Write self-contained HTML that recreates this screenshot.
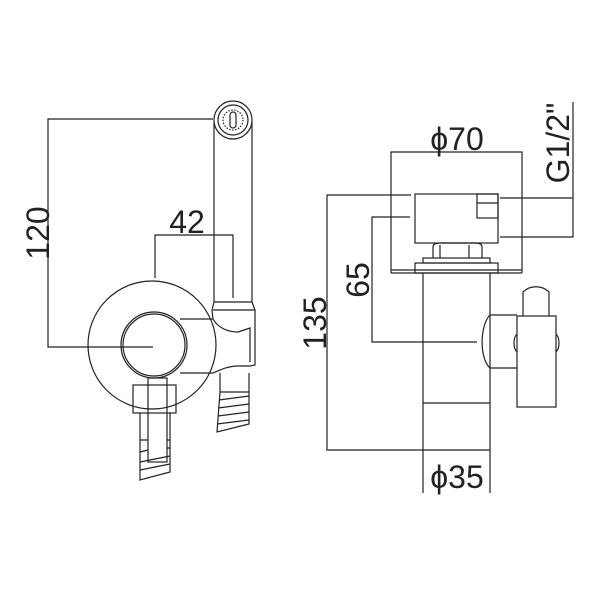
<!DOCTYPE html>
<html><head><meta charset="utf-8"><style>html,body{margin:0;padding:0;background:#fff}svg{display:block}</style></head>
<body>
<svg width="600" height="600" viewBox="0 0 600 600" xmlns="http://www.w3.org/2000/svg" font-family="Liberation Sans, sans-serif">
<g fill="none" stroke="#222" stroke-width="1.2">
<polyline points="213,119 48,119 48,347 153,347"/>
<polyline points="155,278 155,235 233,235 233,298"/>
<circle cx="233" cy="120" r="19"/>
<circle cx="233" cy="120" r="15"/>
<circle cx="233" cy="120" r="10" stroke-dasharray="1.5,1.5"/>
<rect x="230" y="112" width="6" height="16" rx="3"/>
<line x1="214" y1="122" x2="214" y2="302"/>
<line x1="252" y1="122" x2="252" y2="302"/>
<path d="M214,302 L252,302 L255,310 L255,365 L250,366 L238,366 C228,366 220,370 213,373 L180,373"/>
<path d="M213,310 L255,310"/>
<path d="M180,319 L213,319 C218,328 228,332 238,332 L250,328 L250,362"/>
<path d="M214,302 L212,310 L213,319"/>
<circle cx="152" cy="345" r="64"/>
<circle cx="154" cy="345" r="33"/>
<circle cx="154" cy="345" r="31"/>
<path d="M220,373 L220,392 M249,373 L249,392 M220,392 L249,392"/>
<path d="M220,392 L217,432 L249,424 L249,392"/>
<path d="M219,400 L249,396 M218,408 L249,404 M218,416 L249,412 M217,424 L249,420"/>
<rect x="133" y="385" width="43" height="28"/>
<rect x="148" y="378" width="19" height="84"/>
<path d="M140,413 L140,480 L170,472 L170,413"/>
<path d="M140,440 L148,440 M167,440 L170,440 M140,452 L148,450 M167,448 L170,448 M140,462 L170,456 M140,470 L170,464"/>

<polyline points="391,273 391,152 522,152 522,273"/>
<line x1="391" y1="273" x2="522" y2="273"/>
<line x1="391" y1="270" x2="522" y2="270"/>
<rect x="415" y="194" width="83" height="49"/>
<rect x="477" y="194" width="21" height="24"/>
<line x1="477" y1="203" x2="498" y2="203"/>
<polyline points="500,198 573,198"/>
<polyline points="500,237 573,237 573,102"/>
<path d="M433,258 L433,247 C433,244 436,243 440,243 L475,243 C479,243 482,244 482,247 L482,258"/>
<line x1="440" y1="245" x2="440" y2="258"/>
<line x1="469" y1="245" x2="469" y2="258"/>
<rect x="423" y="258" width="67" height="5"/>
<rect x="415" y="263" width="83" height="10"/>
<line x1="423" y1="273" x2="423" y2="450"/>
<line x1="490" y1="273" x2="490" y2="450"/>
<line x1="423" y1="403" x2="490" y2="403"/>
<line x1="423" y1="450" x2="490" y2="450"/>
<polyline points="411,195 327,195 327,450 423,450"/>
<polyline points="410,217 372,217 372,342 477,342"/>
<path d="M490,315 C480,325 479,358 490,368"/>
<line x1="490" y1="315" x2="517" y2="315"/>
<line x1="490" y1="368" x2="517" y2="368"/>
<rect x="517" y="316" width="39" height="91"/>
<path d="M523,316 L523,292 C530,285 542,285 549,292 L549,316"/>
<path d="M517,334 C513,338 513,348 517,352 M556,334 C560,338 560,348 556,352"/>
<line x1="423" y1="450" x2="423" y2="493"/>
<line x1="490" y1="450" x2="490" y2="493"/>
</g>
<g fill="#222" font-size="32" text-anchor="middle">
<text x="187" y="233">42</text>
<text transform="translate(49,233) rotate(-90)">120</text>
<text x="457" y="150">ϕ70</text>
<text x="457" y="488">ϕ35</text>
<text transform="translate(326,323) rotate(-90)">135</text>
<text transform="translate(369,280) rotate(-90)">65</text>
<text transform="translate(569,143) rotate(-90)">G1/2"</text>
</g>
</svg>
</body></html>
